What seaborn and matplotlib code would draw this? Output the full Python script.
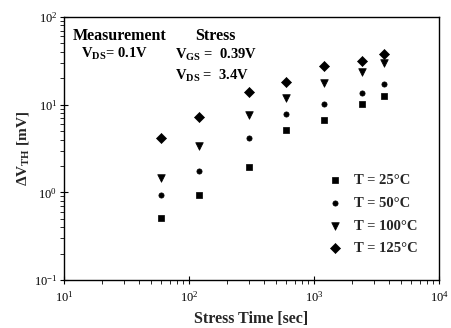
import matplotlib
matplotlib.use("Agg")
import matplotlib.pyplot as plt
import seaborn as sns
import pandas as pd
import numpy as np
from matplotlib.ticker import LogLocator, NullFormatter

sns.set_theme(style="ticks")
plt.rcParams['font.family'] = ['Liberation Serif', 'DejaVu Serif']
plt.rcParams['mathtext.fontset'] = 'custom'
plt.rcParams['mathtext.rm'] = 'Liberation Serif'
plt.rcParams['mathtext.bf'] = 'Liberation Serif:bold'

stress_time = [60, 120, 300, 600, 1200, 2400, 3600]
dvth_25 = [0.51, 0.93, 1.97, 5.1, 6.7, 10.2, 12.6]
dvth_50 = [0.93, 1.75, 4.2, 7.9, 10.2, 13.7, 17.2]
dvth_100 = [1.47, 3.4, 7.6, 11.8, 17.5, 23.5, 29.6]
dvth_125 = [4.2, 7.3, 14.1, 18.3, 27.8, 31.2, 37.5]
labels = ["T = 25°C", "T = 50°C", "T = 100°C", "T = 125°C"]

series = [dvth_25, dvth_50, dvth_100, dvth_125]
markers = ['s', 'o', 'v', 'D']
sizes = [14, 14, 30, 26]

fig = plt.figure(figsize=(4.52, 3.28), dpi=100)
ax = fig.add_axes([0.1416, 0.1463, 0.8296, 0.8019])

for vals, lab, m, s in zip(series, labels, markers, sizes):
    df = pd.DataFrame({"t": stress_time, "v": vals})
    sns.scatterplot(data=df, x="t", y="v", marker=m, s=s, color="black",
                    edgecolor="black", linewidth=0.5, label=lab, ax=ax)

ax.set_xscale("log")
ax.set_yscale("log")
ax.set_xlim(10, 1e4)
ax.set_ylim(0.1, 100)

for sp in ax.spines.values():
    sp.set_linewidth(1.0)
    sp.set_color("black")

ax.tick_params(axis='both', which='major', direction='inout', length=6, width=0.8,
               labelsize=9, colors='black')
ax.tick_params(axis='x', which='major', pad=4)
ax.tick_params(axis='y', which='major', pad=2)
ax.tick_params(axis='both', which='minor', direction='out', length=3, width=0.7)
ax.xaxis.set_minor_locator(LogLocator(base=10, subs=np.arange(2, 10)))
ax.yaxis.set_minor_locator(LogLocator(base=10, subs=np.arange(2, 10)))
ax.xaxis.set_minor_formatter(NullFormatter())
ax.yaxis.set_minor_formatter(NullFormatter())

ax.set_xlabel("Stress Time [sec]", fontsize=11.5, fontweight='bold', labelpad=5)
ax.set_ylabel("$\\mathbf{\\Delta V_{TH}}$ [mV]", fontsize=11, fontweight='bold', labelpad=2)

def ax_xy(px, py):
    return ((px - 64) / 375.0, (280 - py) / 263.0)

tb = dict(fontweight='bold', transform=ax.transAxes, color='black', va='center', ha='left')
ax.text(*ax_xy(73, 36), "Measurement", fontsize=11.5, **tb)
ax.text(*ax_xy(81, 54), "V$_{\\mathbf{DS}}$= 0.1V", fontsize=10.5, **tb)
ax.text(*ax_xy(195, 36), "Stress", fontsize=11.5, **tb)
ax.text(*ax_xy(175, 55), "V$_{\\mathbf{GS}}$ =  0.39V", fontsize=10.5, **tb)
ax.text(*ax_xy(175, 76), "V$_{\\mathbf{DS}}$ =  3.4V", fontsize=10.5, **tb)

leg = ax.legend(loc='upper left', bbox_to_anchor=ax_xy(320, 174), frameon=False,
                prop={'family': 'Liberation Serif', 'weight': 'bold', 'size': 10.5},
                handlelength=2.0, handletextpad=0.35, labelspacing=0.65,
                borderaxespad=0, borderpad=0)

fig.savefig("out.png", dpi=100)
